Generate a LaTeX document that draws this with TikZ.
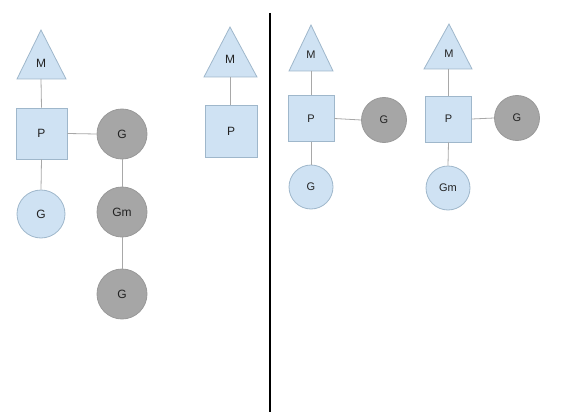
\documentclass[tikz,border=0pt]{standalone}
\usepackage{fontspec}
\setmainfont{Liberation Sans}
\definecolor{bluefill}{HTML}{CFE2F3}
\definecolor{blueline}{HTML}{9FB7CB}
\definecolor{greyfill}{HTML}{A6A6A6}
\definecolor{greyline}{HTML}{999999}
\definecolor{linkcol}{HTML}{A8A8A8}
\definecolor{txt}{HTML}{222222}
\begin{document}
\begin{tikzpicture}[x=1pt,y=-1pt,
  pbox/.style={draw=blueline,fill=bluefill,line width=0.8pt,minimum size=#1,inner sep=0pt,text=txt},
  bg/.style={circle,draw=blueline,fill=bluefill,line width=0.8pt,minimum size=#1,inner sep=0pt,text=txt},
  gg/.style={circle,draw=greyline,fill=greyfill,line width=0.8pt,minimum size=#1,inner sep=0pt,text=txt},
  tri/.style={draw=blueline,fill=bluefill,line width=0.8pt},
  lbl/.style={inner sep=0pt,text=txt},
  link/.style={draw=linkcol,line width=0.8pt},
  big/.style={font=\fontsize{12}{14}\selectfont},
  small/.style={font=\fontsize{11}{13}\selectfont}]
\useasboundingbox (0,0) rectangle (576,420);
% ---- left part ----
\draw[tri] (41,30) -- (66,79) -- (17,79) -- cycle;
\node[lbl,big] (M1) at (41,63) {M};
\coordinate (M1b) at (41,79);
\node[pbox=51pt,big] (P1) at (41.5,133.5) {P};
\node[bg=48pt,big] (G1) at (41,214) {G};
\node[gg=50pt,big] (GA) at (122,134) {G};
\node[gg=50pt,big] (Gm1) at (122,212) {Gm};
\node[gg=50pt,big] (GB) at (122,294) {G};
\draw[link] (M1b) -- (P1.north);
\draw[link] (P1.south) -- (G1.north);
\draw[link] (P1.east) -- (GA.west);
\draw[link] (GA.south) -- (Gm1.north);
\draw[link] (Gm1.south) -- (GB.north);
\draw[tri] (230,27) -- (257,77) -- (204,77) -- cycle;
\node[lbl,big] (M2) at (230,59) {M};
\coordinate (M2b) at (230.5,77);
\node[pbox=52pt,big] (P2) at (231,131.5) {P};
\draw[link] (M2b) -- (M2b |- P2.north);
% ---- divider ----
\coordinate (d1) at (270,13);
\coordinate (d2) at (270,412);
\draw[black,line width=1.1pt] (d1) -- (d2);
% ---- right part ----
\draw[tri] (311,25) -- (333,71) -- (289,71) -- cycle;
\node[lbl,small] (M3) at (311,55) {M};
\coordinate (M3b) at (311,71);
\node[pbox=46pt,small] (P3) at (311,118.5) {P};
\node[gg=45pt,small] (G3r) at (384,120) {G};
\node[bg=44pt,small] (G3) at (311,187) {G};
\draw[link] (M3b) -- (P3.north);
\draw[link] (P3.east) -- (G3r.west);
\draw[link] (P3.south) -- (G3.north);
\draw[tri] (449,24) -- (472,69) -- (424,69) -- cycle;
\node[lbl,small] (M4) at (449,54) {M};
\coordinate (M4b) at (448.5,69);
\node[pbox=46pt,small] (P4) at (448.5,119) {P};
\node[gg=45pt,small] (G4r) at (517,118) {G};
\node[bg=44pt,small] (Gm4) at (448,188) {Gm};
\draw[link] (M4b) -- (P4.north);
\draw[link] (P4.east) -- (G4r.west);
\draw[link] (P4.south) -- (Gm4.north);
\end{tikzpicture}
\end{document}
